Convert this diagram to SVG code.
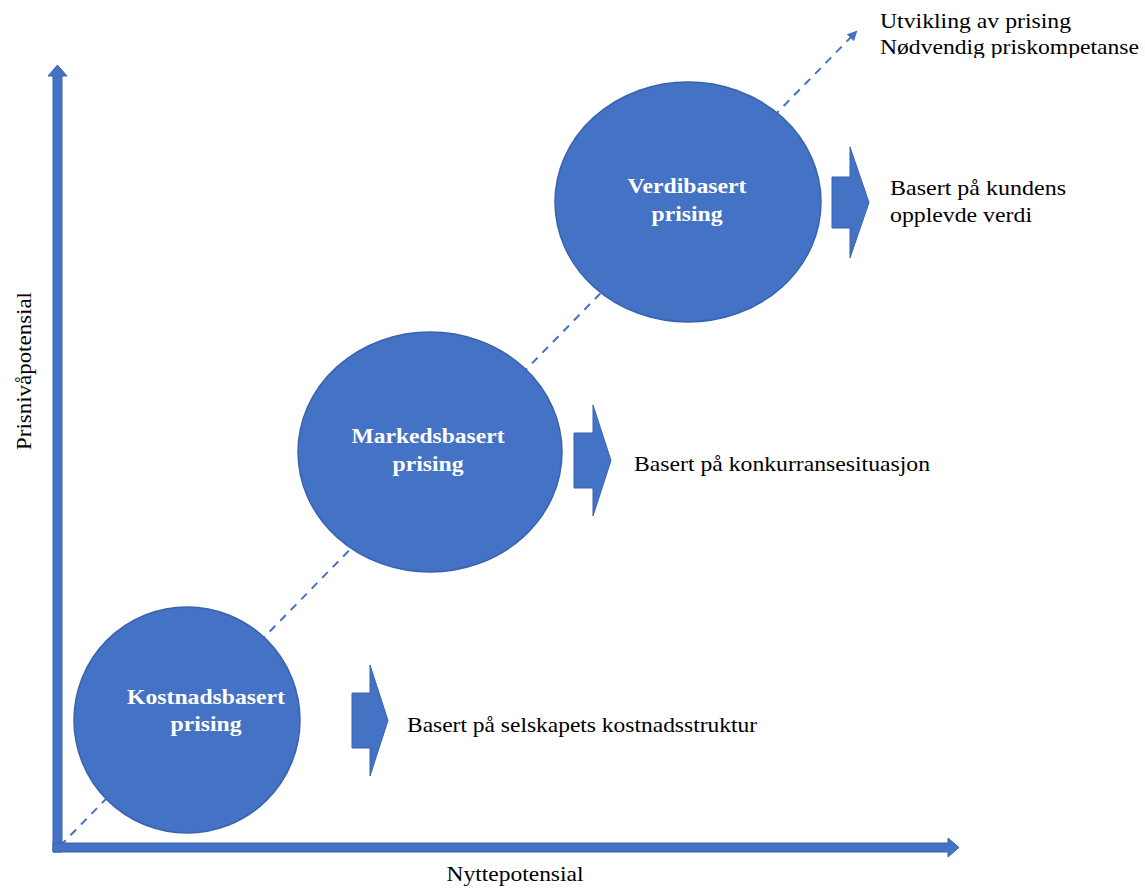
<svg xmlns="http://www.w3.org/2000/svg" width="1145" height="895" viewBox="0 0 1145 895">
<style>
.node{fill:#4472C4;stroke:#3A63AE;stroke-width:1.5}
.blk{fill:#4472C4;stroke:#3A63AE;stroke-width:1}
.lbl{font-family:"Liberation Serif","Times New Roman",serif;font-weight:bold;font-size:22px;fill:#fff;text-anchor:middle}
.txt{font-family:"Liberation Serif","Times New Roman",serif;font-size:22px;fill:#000}
.axis{fill:#4472C4;stroke:#3A63AE;stroke-width:1}
</style>
<defs>
<marker id="dh" viewBox="0 0 10 10" refX="8" refY="5" markerWidth="5" markerHeight="5" orient="auto"><path d="M0,0 L10,5 L0,10 z" fill="#4472C4"/></marker>
<clipPath id="topclip"><rect x="0" y="0" width="1145" height="58"/></clipPath>
</defs>
<g id="connectors">
<line x1="60" y1="846" x2="856" y2="32" stroke="#4472C4" stroke-width="2" stroke-dasharray="8,7" marker-end="url(#dh)"/>
<path class="axis" d="M53,852 L53,76 L48,76 L57.5,65 L67,76 L62,76 L62,852 Z"/>
<path class="axis" d="M53,843 L948,843 L948,838 L959,847.5 L948,857 L948,852 L53,852 Z"/>
</g>
<g id="kostnad">
<ellipse class="node" cx="187" cy="720" rx="113" ry="113"/>
<text class="lbl" x="206" y="704" textLength="158" lengthAdjust="spacingAndGlyphs">Kostnadsbasert</text>
<text class="lbl" x="206" y="731" textLength="71" lengthAdjust="spacingAndGlyphs">prising</text>
</g>
<g id="kostnad-arrow"><path class="blk" d="M352,693 L370,693 L370,665 L388,720.5 L370,776 L370,748 L352,748 Z"/></g>
<g id="marked">
<ellipse class="node" cx="430" cy="452" rx="132" ry="120"/>
<text class="lbl" x="428" y="443" textLength="153" lengthAdjust="spacingAndGlyphs">Markedsbasert</text>
<text class="lbl" x="428" y="471" textLength="71" lengthAdjust="spacingAndGlyphs">prising</text>
</g>
<g id="marked-arrow"><path class="blk" d="M574,433 L593,433 L593,405 L611,460.5 L593,516 L593,488 L574,488 Z"/></g>
<g id="verdi">
<ellipse class="node" cx="688" cy="202" rx="133" ry="120"/>
<text class="lbl" x="687" y="193" textLength="119" lengthAdjust="spacingAndGlyphs">Verdibasert</text>
<text class="lbl" x="687" y="221" textLength="71" lengthAdjust="spacingAndGlyphs">prising</text>
</g>
<g id="verdi-arrow"><path class="blk" d="M832,177 L850,177 L850,147 L869,202.5 L850,258 L850,228 L832,228 Z"/></g>
<text class="txt" x="890" y="195" textLength="176" lengthAdjust="spacingAndGlyphs">Basert på kundens</text>
<text class="txt" x="890" y="222" textLength="142" lengthAdjust="spacingAndGlyphs">opplevde verdi</text>
<text class="txt" x="634" y="471" textLength="296" lengthAdjust="spacingAndGlyphs">Basert på konkurransesituasjon</text>
<text class="txt" x="407" y="732" textLength="350" lengthAdjust="spacingAndGlyphs">Basert på selskapets kostnadsstruktur</text>
<g clip-path="url(#topclip)">
<text class="txt" x="880" y="28" textLength="191" lengthAdjust="spacingAndGlyphs">Utvikling av prising</text>
<text class="txt" x="880" y="54" textLength="259" lengthAdjust="spacingAndGlyphs">Nødvendig priskompetanse</text>
</g>
<text class="txt" x="0" y="0" text-anchor="middle" transform="translate(31,371) rotate(-90)" textLength="158" lengthAdjust="spacingAndGlyphs">Prisnivåpotensial</text>
<text class="txt" x="515" y="881" text-anchor="middle" textLength="137" lengthAdjust="spacingAndGlyphs">Nyttepotensial</text>
</svg>
